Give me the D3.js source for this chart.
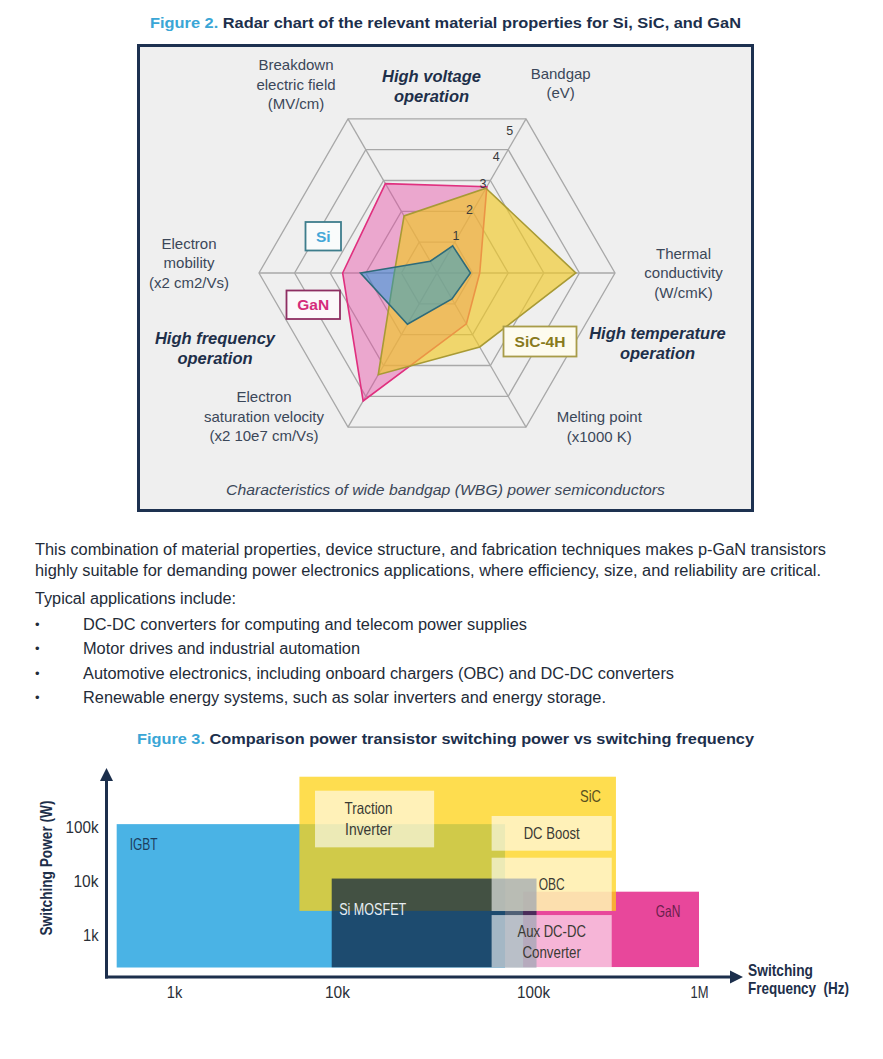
<!DOCTYPE html>
<html><head><meta charset="utf-8">
<script src="https://cdn.jsdelivr.net/npm/d3@7"></script>
<style>html,body{margin:0;padding:0;background:#fff;} svg{display:block;}</style>
</head><body>
<svg id="c" width="883" height="1059"></svg>
<script>
// ---------------- DATA ----------------
// Figure 2 radar chart
const radarAxes = ["Bandgap", "Thermal conductivity", "Melting point", "Electron saturation velocity", "Electron mobility", "Breakdown electric field"];
const radarAxisLabelLines = [["Bandgap", "(eV)"], ["Thermal", "conductivity", "(W/cmK)"], ["Melting point", "(x1000 K)"], ["Electron", "saturation velocity", "(x2 10e7 cm/Vs)"], ["Electron", "mobility", "(x2 cm2/Vs)"], ["Breakdown", "electric field", "(MV/cm)"]];
const radarTicks = [1, 2, 3, 4, 5];
const materials = ["GaN", "SiC-4H", "Si"];
const ganValues = [2.8, 1.2, 1.65, 4.15, 2.65, 2.9];
const sicValues = [2.75, 3.9, 2.4, 3.3, 1.2, 1.85];
const siValues = [0.88, 0.94, 0.84, 1.66, 2.15, 0.38];
const operationLabels = [["High voltage", "operation"], ["High temperature", "operation"], ["High frequency", "operation"]];

// Figure 3 switching power vs frequency
const freqTicks = [1e3, 1e4, 1e5, 1e6];
const freqTickLabels = ["1k", "10k", "100k", "1M"];
const powerTicks = [1e3, 1e4, 1e5];
const powerTickLabels = ["1k", "10k", "100k"];
const techNames = ["IGBT", "GaN", "SiC", "Si MOSFET"];
const techFreqMin = [445, 89000, 5880, 9280];
const techFreqMax = [72000, 1000000, 316000, 105000];
const techPowerMin = [250, 255, 2800, 252];
const techPowerMax = [113000, 6340, 853000, 11100];
const appNames = ["Traction Inverter", "DC Boost", "OBC", "Aux DC-DC Converter"];
const appLines = [["Traction", "Inverter"], ["DC Boost"], ["OBC"], ["Aux DC-DC", "Converter"]];
const appFreqMin = [7330, 61500, 61500, 61500];
const appFreqMax = [31300, 298000, 298000, 298000];
const appPowerMin = [42000, 36400, 2780, 252];
const appPowerMax = [470000, 160000, 27000, 2340];

// Text
const paragraphLines = [
  "This combination of material properties, device structure, and fabrication techniques makes p-GaN transistors",
  "highly suitable for demanding power electronics applications, where efficiency, size, and reliability are critical.",
  "Typical applications include:"
];
const bulletLines = [
  "DC-DC converters for computing and telecom power supplies",
  "Motor drives and industrial automation",
  "Automotive electronics, including onboard chargers (OBC) and DC-DC converters",
  "Renewable energy systems, such as solar inverters and energy storage."
];

// ---------------- DRAW ----------------
const svg = d3.select("#c");
const SANS = "'Liberation Sans', Arial, Helvetica, sans-serif";
const NAVY = "#1c2f4c";
const BLUE_T = "#3aa6d6";

svg.append("rect").attr("width", 883).attr("height", 1059).attr("fill", "#fff");

// narrow-looking text: regular sans squeezed to the measured width
const narrowWidths = {
  "Switching": 65, "Frequency\u00a0 (Hz)": 101, "Switching Power (W)": 135,
  "IGBT": 28, "Si MOSFET": 67, "SiC": 21, "GaN": 24.5, "DC Boost": 56, "OBC": 26,
  "Aux DC-DC": 68.5, "Converter": 58.5, "Traction": 48, "Inverter": 47,
  "100k": 33, "10k": 25, "1k": 15.5, "1M": 18
};
function narrowText(parent, str, xp, yp, anchor, size, fill, bold) {
  return parent.append("text").attr("x", xp).attr("y", yp).attr("dy", "0.36em")
    .attr("text-anchor", anchor).attr("font-family", SANS).attr("font-size", size)
    .attr("font-weight", bold ? "bold" : "normal").attr("fill", fill)
    .attr("textLength", narrowWidths[str]).attr("lengthAdjust", "spacingAndGlyphs").text(str);
}

function title(cxp, cyp, num, rest, width) {
  const t = svg.append("text").attr("x", cxp).attr("y", cyp).attr("dy", "0.36em")
    .attr("text-anchor", "middle").attr("font-family", SANS).attr("font-weight", "bold")
    .attr("font-size", 15.5).attr("textLength", width).attr("lengthAdjust", "spacingAndGlyphs");
  t.append("tspan").attr("fill", BLUE_T).text(num + " ");
  t.append("tspan").attr("fill", NAVY).text(rest);
}
title(445.5, 22, "Figure 2.", "Radar chart of the relevant material properties for Si, SiC, and GaN", 591);

// frame
svg.append("rect").attr("x", 138.5).attr("y", 45.5).attr("width", 614).attr("height", 465)
  .attr("fill", "#efefef").attr("stroke", "#1d3150").attr("stroke-width", 3);

// radar
const cx = 437, cy = 273, R = 178;
const rScale = d3.scaleLinear().domain([0, 5]).range([0, R]);
const aScale = d3.scaleLinear().domain([0, radarAxes.length]).range([Math.PI / 6, Math.PI / 6 + 2 * Math.PI]);
const radar = svg.append("g").attr("transform", `translate(${cx},${cy})`);
const pt = (i, v) => [rScale(v) * Math.sin(aScale(i)), -rScale(v) * Math.cos(aScale(i))];
const radial = d3.lineRadial().angle((d, i) => aScale(i)).radius(d => rScale(d)).curve(d3.curveLinearClosed);

radar.selectAll(".ring").data(radarTicks).join("path")
  .attr("d", t => radial(radarAxes.map(() => t)))
  .attr("fill", "none").attr("stroke", "#a8a8a8").attr("stroke-width", 1.3);
radar.selectAll(".spoke").data(radarAxes).join("line")
  .attr("x1", 0).attr("y1", 0)
  .attr("x2", (d, i) => pt(i, 5)[0]).attr("y2", (d, i) => pt(i, 5)[1])
  .attr("stroke", "#a8a8a8").attr("stroke-width", 1.3);

const series = [
  {vals: ganValues, fill: "rgb(229,73,162)", op: 0.43, stroke: "#e0307f"},
  {vals: sicValues, fill: "rgb(240,200,40)", op: 0.66, stroke: "#a89a35"},
  {vals: siValues, fill: "rgb(0,150,225)", op: 0.45, stroke: "#2e6b7a"}
];
series.forEach(s => {
  radar.append("path").attr("d", radial(s.vals))
    .attr("fill", s.fill).attr("fill-opacity", s.op)
    .attr("stroke", s.stroke).attr("stroke-width", 1.6).attr("stroke-linejoin", "miter");
});

const tickR = d3.scaleLinear().domain([1, 5]).range([42, 160]);
const tickAng = 63 * Math.PI / 180;
radar.selectAll(".tk").data(radarTicks).join("text")
  .attr("x", d => tickR(d) * Math.cos(tickAng)).attr("y", d => -tickR(d) * Math.sin(tickAng))
  .attr("dy", "0.36em").attr("text-anchor", "middle")
  .attr("font-family", SANS).attr("font-size", 12.5).attr("fill", "#3a3a3a").text(d => d);

const axisLabelOffsets = [[34.7, -45.5], [68.5, -19.7], [73.3, -10.5], [-84, -30.5], [-70, -29.7], [-52, -54]];
radarAxisLabelLines.forEach((lines, i) => {
  const p = pt(i, 5);
  const t = radar.append("text").attr("text-anchor", "middle").attr("font-family", SANS)
    .attr("font-size", 15).attr("fill", "#3b4759");
  lines.forEach((ln, k) => {
    t.append("tspan").attr("x", p[0] + axisLabelOffsets[i][0])
      .attr("y", p[1] + axisLabelOffsets[i][1] + k * 19.5).attr("dy", "0.36em").text(ln);
  });
});

const opPos = [[431.5, 76.5], [657.5, 333.5], [215, 338]];
operationLabels.forEach((lines, i) => {
  const t = svg.append("text").attr("text-anchor", "middle").attr("font-family", SANS)
    .attr("font-size", 16.5).attr("font-weight", "bold").attr("font-style", "italic").attr("fill", "#1e2f4a");
  lines.forEach((ln, k) => t.append("tspan").attr("x", opPos[i][0]).attr("y", opPos[i][1] + k * 20).attr("dy", "0.36em").text(ln));
});

const legendLayout = [
  {name: "Si", x: 305.5, y: 222, w: 35.5, h: 28.5, tc: "#44a7d8", sc: "#3d7d8c", bg: "#f9fbfb"},
  {name: "GaN", x: 286.5, y: 290.5, w: 53.5, h: 28.5, tc: "#d42c7b", sc: "#8e2e62", bg: "#fbf8fa"},
  {name: "SiC-4H", x: 503.5, y: 326.5, w: 73, h: 30, tc: "#887a1c", sc: "#a89c48", bg: "#fdfbee"}
];
legendLayout.forEach(l => {
  svg.append("rect").attr("x", l.x).attr("y", l.y).attr("width", l.w).attr("height", l.h)
    .attr("fill", l.bg).attr("stroke", l.sc).attr("stroke-width", 1.8);
  svg.append("text").attr("x", l.x + l.w / 2).attr("y", l.y + l.h / 2).attr("dy", "0.36em")
    .attr("text-anchor", "middle").attr("font-family", SANS).attr("font-weight", "bold")
    .attr("font-size", 15.5).attr("fill", l.tc).text(l.name);
});

svg.append("text").attr("x", 445.5).attr("y", 490).attr("dy", "0.36em").attr("text-anchor", "middle")
  .attr("font-family", SANS).attr("font-style", "italic").attr("font-size", 15).attr("fill", "#3b4759")
  .attr("textLength", 439).attr("lengthAdjust", "spacingAndGlyphs")
  .text("Characteristics of wide bandgap (WBG) power semiconductors");

// ---------------- paragraph ----------------
const paraY = [549, 570, 598];
const paraW = [791, 786, 201];
paragraphLines.forEach((ln, i) => {
  svg.append("text").attr("x", 35).attr("y", paraY[i]).attr("dy", "0.36em")
    .attr("font-family", SANS).attr("font-size", 16).attr("fill", "#232b38")
    .attr("textLength", paraW[i]).attr("lengthAdjust", "spacingAndGlyphs").text(ln);
});
const bulY = [624, 648, 673, 697];
const bulW = [444, 277, 591, 523];
bulletLines.forEach((ln, i) => {
  svg.append("text").attr("x", 35).attr("y", bulY[i]).attr("dy", "0.36em")
    .attr("font-family", SANS).attr("font-size", 13).attr("fill", "#232b38").text("•");
  svg.append("text").attr("x", 83).attr("y", bulY[i]).attr("dy", "0.36em")
    .attr("font-family", SANS).attr("font-size", 16).attr("fill", "#232b38")
    .attr("textLength", bulW[i]).attr("lengthAdjust", "spacingAndGlyphs").text(ln);
});

// ---------------- Figure 3 ----------------
title(445.5, 738, "Figure 3.", "Comparison power transistor switching power vs switching frequency", 617);

const x = d3.scaleLog().domain(freqTicks).range([174, 337, 533, 699]);
const y = d3.scaleLog().domain([1e3, 1e5]).range([935, 827]);
const ax0 = 106.5, ay0 = 977;

const tech = techNames.map((n, i) => ({name: n, f0: techFreqMin[i], f1: techFreqMax[i], p0: techPowerMin[i], p1: techPowerMax[i]}));
const techStyle = {
  "IGBT": {fill: "#4ab3e5", op: 1},
  "GaN": {fill: "#e8479b", op: 1},
  "SiC": {fill: "rgb(253,210,20)", op: 0.75},
  "Si MOSFET": {fill: "rgb(12,35,65)", op: 0.72}
};
const g3 = svg.append("g");
g3.selectAll(".tech").data(tech).join("rect")
  .attr("x", d => x(d.f0)).attr("width", d => x(d.f1) - x(d.f0))
  .attr("y", d => y(d.p1)).attr("height", d => y(d.p0) - y(d.p1))
  .attr("fill", d => techStyle[d.name].fill).attr("fill-opacity", d => techStyle[d.name].op);

const apps = appNames.map((n, i) => ({name: n, lines: appLines[i], f0: appFreqMin[i], f1: appFreqMax[i], p0: appPowerMin[i], p1: appPowerMax[i]}));
g3.selectAll(".app").data(apps).join("rect")
  .attr("x", d => x(d.f0)).attr("width", d => x(d.f1) - x(d.f0))
  .attr("y", d => y(d.p1)).attr("height", d => y(d.p0) - y(d.p1))
  .attr("fill", "#fff").attr("fill-opacity", 0.6);

const techLabel = {
  "IGBT": {anchor: "start", dx: d => x(d.f0) + 13, dy: d => y(d.p1) + 20, c: "#1d3d5e"},
  "GaN": {anchor: "middle", dx: d => x(d.f1) - 31, dy: d => y(d.p1) + 19, c: "#6a1f4c"},
  "SiC": {anchor: "middle", dx: d => x(d.f1) - 25.5, dy: d => y(d.p1) + 19.5, c: "#5a5020"},
  "Si MOSFET": {anchor: "start", dx: d => x(d.f0) + 7.5, dy: d => y(d.p1) + 30.5, c: "#e8eef3"}
};
tech.forEach(d => {
  const L = techLabel[d.name];
  narrowText(g3, d.name, L.dx(d), L.dy(d), L.anchor, 16.5, L.c, false);
});
apps.forEach((d, i) => {
  const cxr = (x(d.f0) + x(d.f1)) / 2 + (i === 0 ? -6 : 0);
  const cyr = i === 0 ? y(d.p1) + 28 : (y(d.p0) + y(d.p1)) / 2;
  const n = d.lines.length;
  d.lines.forEach((ln, k) => narrowText(g3, ln, cxr, cyr + (k - (n - 1) / 2) * 21, "middle", 16.5, "#3a3a34", false));
});

// axes
const yAxis = d3.axisLeft(y).tickValues(powerTicks).tickFormat((d, i) => powerTickLabels[i]).tickSize(0).tickPadding(8);
const xAxis = d3.axisBottom(x).tickValues(freqTicks).tickFormat((d, i) => freqTickLabels[i]).tickSize(0).tickPadding(10);
const gy = svg.append("g").attr("transform", `translate(${ax0},0)`).call(yAxis);
const gx = svg.append("g").attr("transform", `translate(0,${ay0})`).call(xAxis);
[gx, gy].forEach(g => {
  g.select(".domain").remove();
  g.selectAll("text").attr("font-family", SANS).attr("font-size", 16).attr("fill", "#2a2f38")
    .attr("lengthAdjust", "spacingAndGlyphs").attr("textLength", function () { return narrowWidths[this.textContent]; });
});
svg.append("line").attr("x1", ax0).attr("x2", ax0).attr("y1", ay0 + 1.5).attr("y2", 778)
  .attr("stroke", NAVY).attr("stroke-width", 3);
svg.append("line").attr("x1", ax0 - 1.5).attr("x2", 732).attr("y1", ay0).attr("y2", ay0)
  .attr("stroke", NAVY).attr("stroke-width", 3);
svg.append("path").attr("d", `M${ax0},768 L${ax0 - 6.5},781 L${ax0 + 6.5},781 Z`).attr("fill", NAVY);
svg.append("path").attr("d", `M743,${ay0} L730,${ay0 - 6.5} L730,${ay0 + 6.5} Z`).attr("fill", NAVY);

// axis titles
const yt = narrowText(svg, "Switching Power (W)", 0, 0, "middle", 16.5, "#1e2f4a", true);
yt.attr("transform", "translate(46,868) rotate(-90)");
narrowText(svg, "Switching", 748, 970, "start", 16.5, "#1e2f4a", true);
narrowText(svg, "Frequency\u00a0 (Hz)", 748, 988, "start", 16.5, "#1e2f4a", true);
</script>
</body></html>
